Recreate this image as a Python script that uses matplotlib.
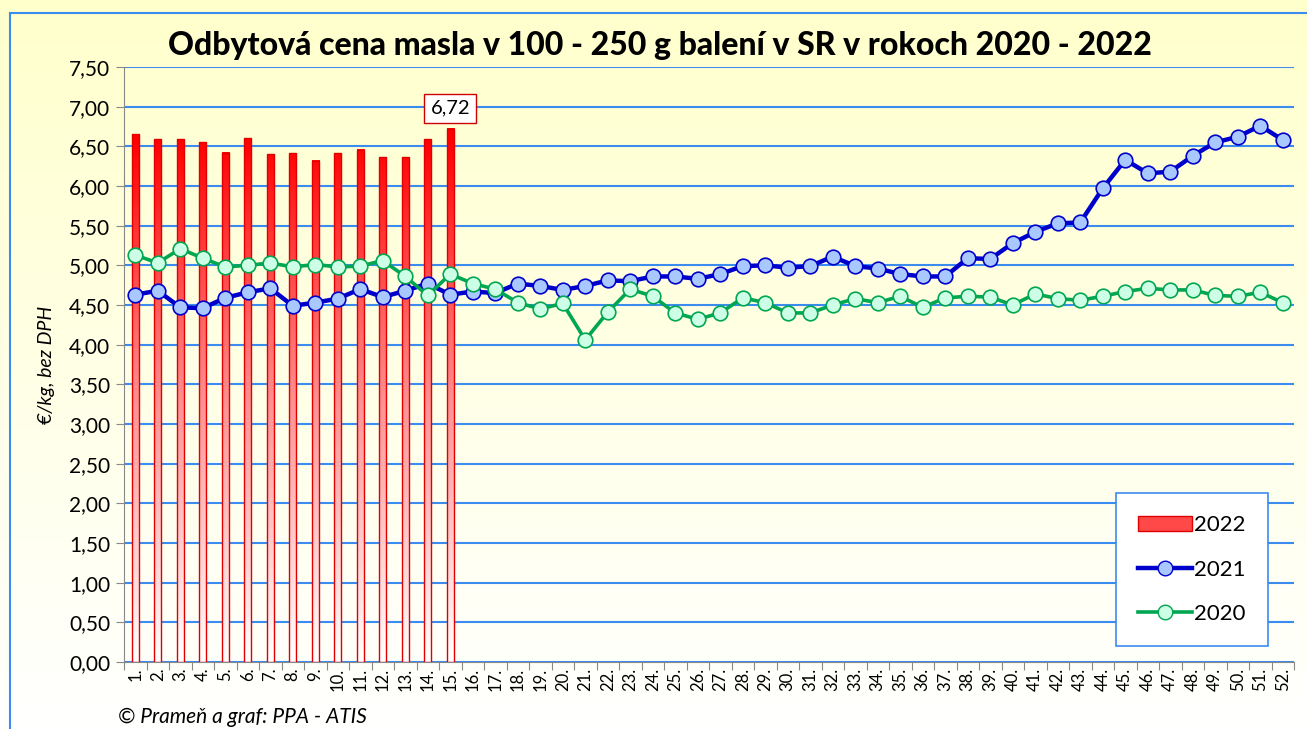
import numpy as np
import matplotlib
matplotlib.use('Agg')
from matplotlib import pyplot as plt
from matplotlib.colors import LinearSegmentedColormap
from matplotlib.patches import Rectangle, Patch
from matplotlib.lines import Line2D
from matplotlib.ticker import FuncFormatter, MultipleLocator, FixedLocator

# týždne
weeks = list(range(1, 53))
week_labels = ['%d.' % w for w in weeks]

# 2022 (stĺpce, len prvých 15 týždňov)
y2022 = [6.65, 6.59, 6.59, 6.55, 6.42, 6.60, 6.40, 6.41, 6.32, 6.41,
         6.46, 6.36, 6.36, 6.59, 6.72]

# 2021
y2021 = [4.63, 4.68, 4.47, 4.46, 4.59, 4.66, 4.71, 4.49, 4.53, 4.58,
         4.70, 4.60, 4.68, 4.77, 4.63, 4.67, 4.65, 4.77, 4.74, 4.69,
         4.74, 4.81, 4.80, 4.86, 4.86, 4.83, 4.89, 4.99, 5.00, 4.97,
         4.99, 5.11, 4.99, 4.96, 4.89, 4.86, 4.86, 5.09, 5.08, 5.28,
         5.42, 5.53, 5.54, 5.97, 6.33, 6.16, 6.18, 6.38, 6.55, 6.62,
         6.76, 6.58]

# 2020
y2020 = [5.13, 5.03, 5.21, 5.09, 4.98, 5.00, 5.03, 4.98, 5.01, 4.98,
         4.99, 5.06, 4.86, 4.62, 4.89, 4.77, 4.70, 4.53, 4.45, 4.52,
         4.06, 4.41, 4.70, 4.61, 4.40, 4.32, 4.40, 4.59, 4.53, 4.40,
         4.40, 4.50, 4.58, 4.53, 4.61, 4.47, 4.59, 4.61, 4.60, 4.50,
         4.64, 4.58, 4.56, 4.61, 4.67, 4.71, 4.69, 4.69, 4.62, 4.61,
         4.66, 4.53]

title = 'Odbytová cena masla v 100 - 250 g balení v SR v rokoch 2020 - 2022'

plt.rcParams['font.family'] = ['Lato', 'DejaVu Sans']

W, H = 1307, 729
fig = plt.figure(figsize=(W / 100, H / 100), dpi=100)

# pozadie - prechod zo žltej do bielej
bg = fig.add_axes([0, 0, 1, 1], zorder=-10)
grad = np.linspace(0, 1, 256).reshape(-1, 1)
bg_cmap = LinearSegmentedColormap.from_list('bg', ['#ffffcc', '#ffffff'])
bg.imshow(grad, aspect='auto', cmap=bg_cmap, extent=[0, 1, 0, 1], origin='upper')
bg.set_xlim(0, 1)
bg.set_ylim(0, 1)
bg.axis('off')
fig.patches.append(Rectangle((10 / W, -0.1), 1.2, 1 - 13 / H + 0.1, transform=fig.transFigure,
                             fill=False, edgecolor='#3c8cf0', linewidth=1.5))

ax = fig.add_axes([124 / W, 1 - 662 / H, (1294 - 124) / W, (662 - 67) / H])
ax.patch.set_alpha(0)

# stĺpce 2022 s prechodom farby
bar_cmap = LinearSegmentedColormap.from_list('bar', ['#ffffff', '#ff9090', '#ff0000'])
bw = 0.32
for i, v in enumerate(y2022):
    x = weeks[i]
    g = np.linspace(v, 0, 200).reshape(-1, 1)
    ax.imshow(g, aspect='auto', cmap=bar_cmap, vmin=0, vmax=6.6,
              extent=[x - bw / 2, x + bw / 2, 0, v], zorder=2)
ax.bar(weeks[:len(y2022)], y2022, width=bw, facecolor='none', edgecolor='#e00000',
       linewidth=1.0, zorder=3)

ax.plot(weeks, y2021, color='#0000cc', lw=3.2, marker='o', ms=10.5,
        mfc='#a9c8ff', mec='#0000cc', mew=1.2, zorder=4)
ax.plot(weeks, y2020, color='#00a651', lw=2.6, marker='o', ms=10.5,
        mfc='#ccffe6', mec='#00a651', mew=1.2, zorder=5)

ax.text(15, 6.98, '6,72', ha='center', va='center', fontsize=14.5, zorder=6,
        bbox=dict(boxstyle='square,pad=0.3', fc='white', ec='#d00000', lw=1.0))

ax.set_xlim(0.5, 52.5)
ax.set_ylim(0, 7.5)
ax.yaxis.set_major_locator(MultipleLocator(0.5))
ax.yaxis.set_major_formatter(FuncFormatter(lambda v, p: ('%.2f' % v).replace('.', ',')))
ax.grid(axis='y', color='#3c8cf0', lw=1.5, zorder=1)
ax.set_axisbelow(True)

ax.xaxis.set_major_locator(FixedLocator(np.arange(0.5, 53, 1)))
ax.xaxis.set_major_formatter(FuncFormatter(lambda v, p: ''))
ax.xaxis.set_minor_locator(FixedLocator(weeks))
ax.set_xticklabels(week_labels, minor=True, rotation=90, fontsize=12)
ax.tick_params(axis='x', which='major', length=6, color='#888888', direction='out')
ax.tick_params(axis='x', which='minor', length=0, pad=4)
ax.tick_params(axis='y', length=6, color='#888888', labelsize=15, pad=4)

for s in ['top', 'right']:
    ax.spines[s].set_visible(False)
ax.spines['left'].set_color('#888888')
ax.spines['bottom'].set_color('#888888')

ax.set_ylabel('€/kg, bez DPH', fontsize=14, style='italic', labelpad=10)

handles = [Patch(facecolor='#ff4848', edgecolor='#e00000'),
           Line2D([], [], color='#0000cc', lw=3.2, marker='o', ms=10.5, mfc='#a9c8ff', mec='#0000cc'),
           Line2D([], [], color='#00a651', lw=2.6, marker='o', ms=10.5, mfc='#ccffe6', mec='#00a651')]
leg = ax.legend(handles, ['2022', '2021', '2020'], loc='upper left',
                bbox_to_anchor=((1116 - 124) / (1294 - 124), (662 - 493) / (662 - 67)),
                fontsize=16, frameon=True, fancybox=False, edgecolor='#3c8cf0',
                framealpha=1, borderpad=1.0, labelspacing=1.1, handlelength=2.4,
                handletextpad=0.1, borderaxespad=0)
leg.get_frame().set_linewidth(1.2)
leg.set_zorder(10)

fig.text(0.505, 1 - 45 / H, title, ha='center', va='center', fontsize=23, fontweight='black')
fig.text(118 / W, 1 - 717 / H, '© Prameň a graf: PPA - ATIS', ha='left', va='center',
         fontsize=15, style='italic')

fig.savefig('out.png', dpi=100)
